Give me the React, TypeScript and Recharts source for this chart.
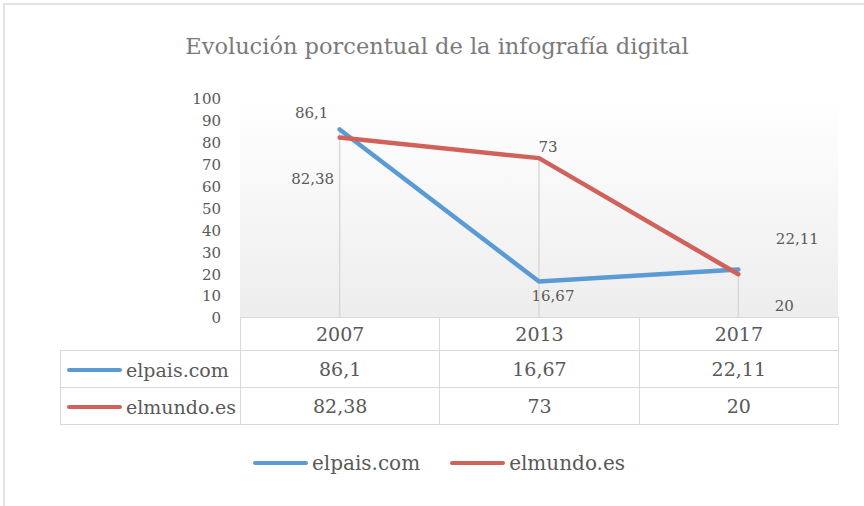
import React from 'react';
import { LineChart, Line, XAxis, YAxis, CartesianGrid, ReferenceLine, LabelList, Legend } from 'recharts';

const years = ['2007', '2013', '2017'];
const elpais = [86.1, 16.67, 22.11];
const elmundo = [82.38, 73, 20];
const yTicks = [0, 10, 20, 30, 40, 50, 60, 70, 80, 90, 100];

const series = [
  { key: 'elpais', name: 'elpais.com', color: '#5b9bd5', values: elpais },
  { key: 'elmundo', name: 'elmundo.es', color: '#d0625b', values: elmundo },
];

const data = years.map((year, i) => ({ year, elpais: elpais[i], elmundo: elmundo[i] }));

// label nudges (Excel labels were dragged by hand)
const labelOffsets: Record<string, [number, number][]> = {
  elpais: [[-28, -16], [14, 15], [59, -31]],
  elmundo: [[-27, 41], [9, -11], [46, 32]],
};

const FONT = '"DejaVu Serif", "Liberation Serif", serif';
const TEXT = '#595959';
const GRID = '#d9d9d9';

const W = 864;
const H = 506;
const PLOT_LEFT = 240;
const PLOT_RIGHT = 838;
const PLOT_TOP = 99;
const PLOT_BOTTOM = 318;
const COL_W = (PLOT_RIGHT - PLOT_LEFT) / years.length;

const fmt = (v: number) => String(v).replace('.', ',');

const makeLabel = (key: string) => (props: any) => {
  const { x, y, value, index } = props;
  const [dx, dy] = labelOffsets[key][index];
  return (
    <text
      x={x + dx}
      y={y + dy}
      textAnchor="middle"
      dominantBaseline="central"
      fill={TEXT}
      fontSize={15}
      fontFamily={FONT}
    >
      {fmt(value)}
    </text>
  );
};

const LegendContent = () => (
  <div style={{ display: 'flex', justifyContent: 'center', alignItems: 'center', gap: 30 }}>
    {series.map((s) => (
      <div key={s.key} style={{ display: 'flex', alignItems: 'center' }}>
        <span style={{ display: 'inline-block', width: 55, height: 4, borderRadius: 2, background: s.color, marginRight: 4 }} />
        <span style={{ fontFamily: FONT, fontSize: 20, color: TEXT }}>{s.name}</span>
      </div>
    ))}
  </div>
);

const cell: React.CSSProperties = {
  border: `1.5px solid ${GRID}`,
  fontFamily: FONT,
  fontSize: 19,
  color: TEXT,
  textAlign: 'center',
  padding: 0,
};

export default function App() {
  return (
    <div style={{ position: 'fixed', left: 0, top: 0, width: W, height: H, background: '#fff', overflow: 'hidden' }}>
      <div style={{ position: 'absolute', left: 3, top: 3, width: W + 20, height: H + 20, borderLeft: '2px solid #e3e3e3', borderTop: '2px solid #e3e3e3' }} />
      <div
        style={{
          position: 'absolute', left: 0, width: 874, top: 33, textAlign: 'center',
          fontFamily: FONT, fontSize: 22.5, color: '#7a7a7a',
        }}
      >
        Evolución porcentual de la infografía digital
      </div>

      <div style={{ position: 'absolute', left: 0, top: 0 }}>
        <LineChart
          width={W}
          height={H}
          data={data}
          margin={{ top: PLOT_TOP, right: W - PLOT_RIGHT, bottom: H - PLOT_BOTTOM, left: 0 }}
        >
          <defs>
            <linearGradient id="plotBg" x1="0" y1="0" x2="0" y2="1">
              <stop offset="0%" stopColor="#ffffff" />
              <stop offset="100%" stopColor="#ededed" />
            </linearGradient>
          </defs>
          <CartesianGrid horizontal={false} vertical={false} fill="url(#plotBg)" />
          <XAxis dataKey="year" hide padding={{ left: COL_W / 2, right: COL_W / 2 }} />
          <YAxis
            width={PLOT_LEFT}
            domain={[0, 100]}
            ticks={yTicks}
            axisLine={false}
            tickLine={false}
            tickMargin={13}
            interval={0}
            tick={{ fill: TEXT, fontSize: 15, fontFamily: FONT }}
          />
          {years.map((yr, i) => (
            <ReferenceLine
              key={yr}
              segment={[{ x: yr, y: 0 }, { x: yr, y: Math.max(elpais[i], elmundo[i]) }]}
              stroke={GRID}
              strokeWidth={1.5}
            />
          ))}
          {series.map((s) => (
            <Line
              key={s.key}
              dataKey={s.key}
              name={s.name}
              stroke={s.color}
              strokeWidth={4.5}
              strokeLinecap="round"
              strokeLinejoin="round"
              dot={false}
              activeDot={false}
              isAnimationActive={false}
            >
              <LabelList dataKey={s.key} content={makeLabel(s.key)} />
            </Line>
          ))}
          <Legend
            verticalAlign="middle"
            align="center"
            content={<LegendContent />}
            wrapperStyle={{ top: 451, left: 0, width: W + 14, height: 24 }}
          />
        </LineChart>
      </div>

      <table
        style={{
          position: 'absolute', left: 60, top: PLOT_BOTTOM - 1, borderCollapse: 'collapse',
          tableLayout: 'fixed', width: PLOT_RIGHT - 60,
        }}
      >
        <colgroup>
          <col style={{ width: PLOT_LEFT - 60 }} />
          {years.map((y) => <col key={y} style={{ width: COL_W }} />)}
        </colgroup>
        <tbody>
          <tr style={{ height: 33 }}>
            <td style={{ border: 'none' }} />
            {years.map((y) => <td key={y} style={cell}>{y}</td>)}
          </tr>
          {series.map((s) => (
            <tr key={s.key} style={{ height: 37 }}>
              <td style={{ ...cell, textAlign: 'left', paddingLeft: 6, whiteSpace: 'nowrap' }}>
                <span style={{ display: 'inline-block', width: 55, height: 4, borderRadius: 2, background: s.color, marginRight: 4, verticalAlign: 'middle' }} />
                <span style={{ verticalAlign: 'middle' }}>{s.name}</span>
              </td>
              {s.values.map((v, i) => <td key={i} style={cell}>{fmt(v)}</td>)}
            </tr>
          ))}
        </tbody>
      </table>
    </div>
  );
}
